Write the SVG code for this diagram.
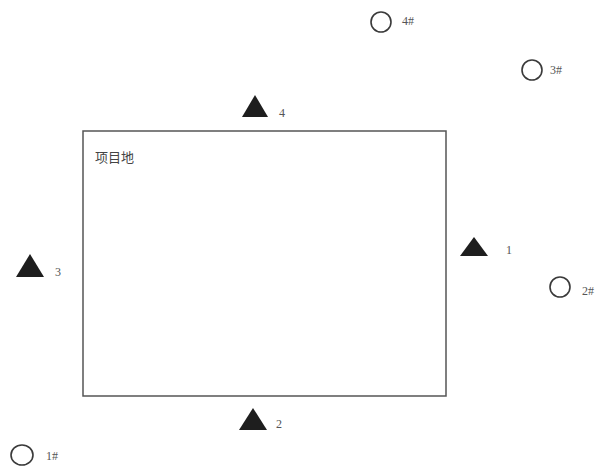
<svg xmlns="http://www.w3.org/2000/svg" width="601" height="470" viewBox="0 0 601 470">
<style>
.tri{fill:#1e1e1e}
.pt{fill:none;stroke:#3a3a3a;stroke-width:1.6}
.lbl{font-family:"Liberation Serif",serif;font-size:12px;fill:#555}
.cn{font-family:"Noto Sans CJK SC",sans-serif;font-size:13px;fill:#444}
</style>
<rect width="601" height="470" fill="#ffffff"/>
<g id="site">
<rect x="83" y="131" width="363" height="265" fill="none" stroke="#555" stroke-width="1.5"/>
<text class="cn" x="95" y="162">项目地</text>
</g>
<g id="s1"><polygon class="tri" points="474,237 460,256 488,256"/><text class="lbl" x="506" y="254">1</text></g>
<g id="s2"><polygon class="tri" points="253,408 239,430 267,430"/><text class="lbl" x="276" y="428">2</text></g>
<g id="s3"><polygon class="tri" points="30,254 16,277 44,277"/><text class="lbl" x="55" y="276">3</text></g>
<g id="s4"><polygon class="tri" points="255,95 242,117 268,117"/><text class="lbl" x="279" y="117">4</text></g>
<g id="p1"><ellipse class="pt" cx="22" cy="455" rx="11" ry="10"/><text class="lbl" x="46" y="460">1#</text></g>
<g id="p2"><ellipse class="pt" cx="560" cy="287" rx="10" ry="10"/><text class="lbl" x="582" y="295">2#</text></g>
<g id="p3"><ellipse class="pt" cx="532" cy="70" rx="10" ry="10"/><text class="lbl" x="550" y="74">3#</text></g>
<g id="p4"><ellipse class="pt" cx="381" cy="22" rx="10" ry="10"/><text class="lbl" x="402" y="25">4#</text></g>
<g id="connectors"></g>
</svg>
